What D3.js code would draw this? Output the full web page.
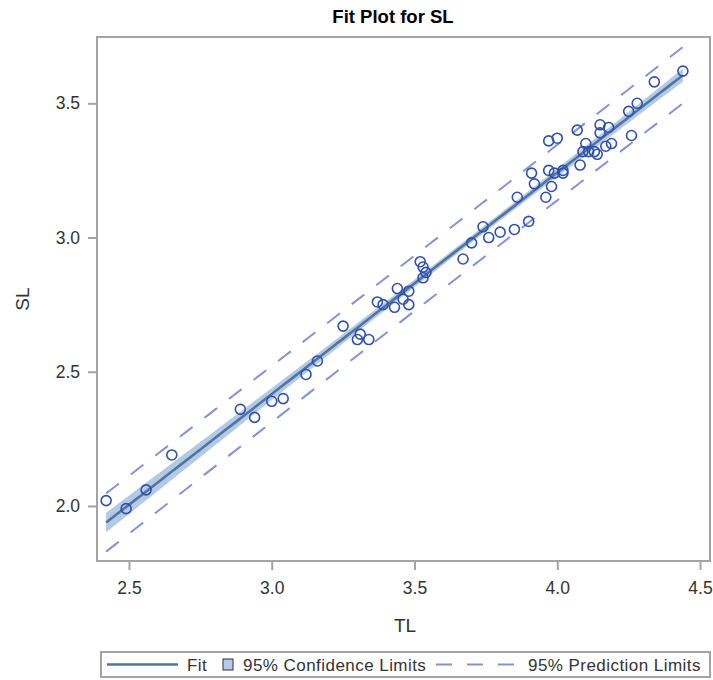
<!DOCTYPE html>
<html>
<head>
<meta charset="utf-8">
<script src="https://cdn.jsdelivr.net/npm/d3@7"></script>
<style>
  html, body { margin: 0; padding: 0; background: #fff; }
  svg { display: block; font-family: "Liberation Sans", Arial, sans-serif; }
</style>
</head>
<body>
<svg id="chart" width="713" height="680"></svg>
<script>
// Observations: TL (x) and SL (y)
const tl = [2.42, 2.49, 2.56, 2.65, 2.89, 2.94, 3.00, 3.04, 3.12, 3.16,
            3.25, 3.31, 3.30, 3.34, 3.37, 3.39, 3.43, 3.44, 3.48, 3.46,
            3.48, 3.52, 3.53, 3.54, 3.53, 3.67, 3.70, 3.74, 3.76, 3.80,
            3.85, 3.90, 3.86, 3.92, 3.91, 3.96, 3.98, 3.97, 3.99, 4.02,
            4.02, 3.97, 4.00, 4.07, 4.08, 4.10, 4.09, 4.11, 4.13, 4.14,
            4.15, 4.15, 4.18, 4.17, 4.19, 4.26, 4.25, 4.28, 4.34, 4.44];
const sl = [2.02, 1.99, 2.06, 2.19, 2.36, 2.33, 2.39, 2.40, 2.49, 2.54,
            2.67, 2.64, 2.62, 2.62, 2.76, 2.75, 2.74, 2.81, 2.80, 2.77,
            2.75, 2.91, 2.89, 2.87, 2.85, 2.92, 2.98, 3.04, 3.00, 3.02,
            3.03, 3.06, 3.15, 3.20, 3.24, 3.15, 3.19, 3.25, 3.24, 3.25,
            3.24, 3.36, 3.37, 3.40, 3.27, 3.35, 3.32, 3.32, 3.32, 3.31,
            3.42, 3.39, 3.41, 3.34, 3.35, 3.38, 3.47, 3.50, 3.58, 3.62];

const xTicks = [2.5, 3.0, 3.5, 4.0, 4.5];
const yTicks = [2.0, 2.5, 3.0, 3.5];
const legendLabels = ["Fit", "95% Confidence Limits", "95% Prediction Limits"];
const T95 = 2.0017; // t quantile, 0.975, 58 df

// Least-squares fit with confidence and prediction limits
const n = tl.length;
const xbar = d3.mean(tl), ybar = d3.mean(sl);
const sxx = d3.sum(tl, x => (x - xbar) ** 2);
const sxy = d3.sum(tl.map((x, i) => (x - xbar) * (sl[i] - ybar)));
const slope = sxy / sxx;
const icpt = ybar - slope * xbar;
const sse = d3.sum(tl.map((x, i) => (sl[i] - (icpt + slope * x)) ** 2));
const s = Math.sqrt(sse / (n - 2));
const [xmin, xmax] = d3.extent(tl);
const grid = d3.range(0, 101).map(k => xmin + (xmax - xmin) * k / 100);
const fitRows = grid.map(x => {
  const yh = icpt + slope * x;
  const h = (x - xbar) ** 2 / sxx;
  const ci = T95 * s * Math.sqrt(1 / n + h);
  const pi = T95 * s * Math.sqrt(1 + 1 / n + h);
  return { x, yh, clo: yh - ci, chi: yh + ci, plo: yh - pi, phi: yh + pi };
});

const svg = d3.select("#chart");
const L = 97, R = 710, T = 37, B = 561;

const x = d3.scaleLinear().domain([2.388, 4.535]).range([L, R]);
const y = d3.scaleLinear().domain([1.795, 3.747]).range([B, T]);

const defs = svg.append("defs");
defs.append("clipPath").attr("id", "plotClip")
  .append("rect").attr("x", L).attr("y", T).attr("width", R - L).attr("height", B - T);
defs.append("filter").attr("id", "soft").attr("x", "-5%").attr("y", "-5%")
  .attr("width", "110%").attr("height", "110%")
  .append("feGaussianBlur").attr("stdDeviation", 0.7);

// Title
svg.append("text")
  .attr("x", 393).attr("y", 23)
  .attr("text-anchor", "middle")
  .attr("font-size", 18.5).attr("font-weight", "bold").attr("fill", "#000")
  .text("Fit Plot for SL");

const plot = svg.append("g").attr("clip-path", "url(#plotClip)");

// Confidence band
plot.append("path")
  .datum(fitRows)
  .attr("fill", "#b2cae7")
  .attr("filter", "url(#soft)")
  .attr("d", d3.area().x(d => x(d.x)).y0(d => y(d.clo)).y1(d => y(d.chi)));

// Prediction limits
["plo", "phi"].forEach(k => {
  plot.append("path")
    .datum(fitRows)
    .attr("fill", "none")
    .attr("stroke", "#8592d6")
    .attr("stroke-width", 2)
    .attr("stroke-dasharray", "16,15")
    .attr("d", d3.line().x(d => x(d.x)).y(d => y(d[k])));
});

// Fit line
plot.append("path")
  .datum(fitRows)
  .attr("fill", "none")
  .attr("stroke", "#55749c")
  .attr("stroke-width", 2.6)
  .attr("d", d3.line().x(d => x(d.x)).y(d => y(d.yh)));

// Observations
plot.selectAll("circle.obs")
  .data(tl.map((v, i) => [v, sl[i]]))
  .join("circle")
  .attr("class", "obs")
  .attr("cx", d => x(d[0]))
  .attr("cy", d => y(d[1]))
  .attr("r", 5)
  .attr("fill", "none")
  .attr("stroke", "#2e50b0")
  .attr("stroke-width", 1.6);

// Frame
svg.append("rect")
  .attr("x", L).attr("y", T).attr("width", R - L).attr("height", B - T)
  .attr("fill", "none").attr("stroke", "#a4a4a4").attr("stroke-width", 2);

// Axes
const xAxis = d3.axisBottom(x).tickValues(xTicks).tickFormat(d3.format(".1f"))
  .tickSize(9).tickPadding(12);
const yAxis = d3.axisLeft(y).tickValues(yTicks).tickFormat(d3.format(".1f"))
  .tickSize(9).tickPadding(8);

const gx = svg.append("g").attr("transform", `translate(0,${B})`).call(xAxis);
const gy = svg.append("g").attr("transform", `translate(${L},0)`).call(yAxis);
[gx, gy].forEach(g => {
  g.select(".domain").remove();
  g.selectAll(".tick line").attr("stroke", "#a4a4a4").attr("stroke-width", 2);
  g.selectAll(".tick text").attr("fill", "#333").attr("font-size", 17.5)
    .attr("font-family", "Liberation Sans, Arial, sans-serif");
});

// Axis labels
svg.append("text")
  .attr("x", 405).attr("y", 632)
  .attr("text-anchor", "middle").attr("font-size", 19).attr("fill", "#333")
  .text("TL");
svg.append("text")
  .attr("transform", `translate(29,${(T + B) / 2}) rotate(-90)`)
  .attr("text-anchor", "middle").attr("font-size", 19).attr("fill", "#333")
  .text("SL");

// Legend
const lg = svg.append("g");
lg.append("rect")
  .attr("x", 101).attr("y", 652).attr("width", 609).attr("height", 25)
  .attr("fill", "#fff").attr("stroke", "#a4a4a4").attr("stroke-width", 2);
const ly = 664.5;
const legendFont = { size: 17, spacing: 0.45 };
lg.append("line").attr("x1", 107).attr("x2", 178).attr("y1", ly).attr("y2", ly)
  .attr("stroke", "#55749c").attr("stroke-width", 2.6);
lg.append("rect").attr("x", 223).attr("y", 659).attr("width", 10).attr("height", 11)
  .attr("fill", "#b3cbe8").attr("stroke", "#333").attr("stroke-width", 1);
lg.append("line").attr("x1", 436).attr("x2", 519).attr("y1", ly).attr("y2", ly)
  .attr("stroke", "#8592d6").attr("stroke-width", 2).attr("stroke-dasharray", "16,15");
[187, 243, 528].forEach((lx, i) => {
  lg.append("text").attr("x", lx).attr("y", ly + 6)
    .attr("font-size", legendFont.size).attr("letter-spacing", legendFont.spacing)
    .attr("fill", "#333")
    .text(legendLabels[i]);
});
</script>
</body>
</html>
